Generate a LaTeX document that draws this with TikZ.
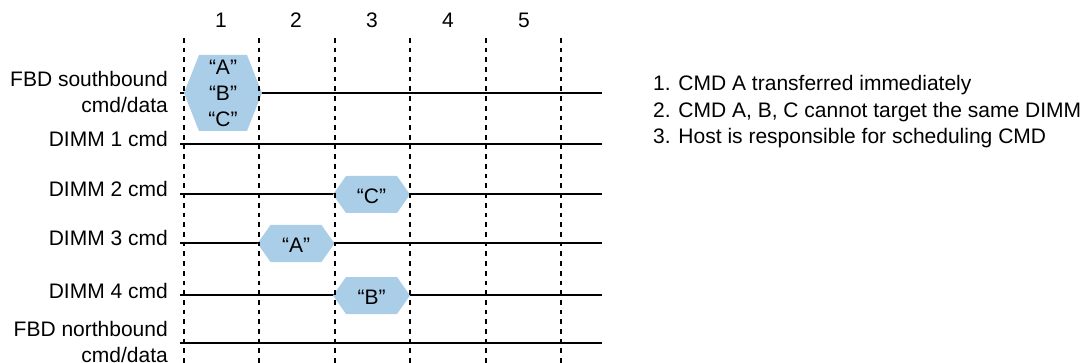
\documentclass[tikz,border=0pt]{standalone}
\usepackage{fontspec}
\setmainfont{Liberation Sans}
\usetikzlibrary{positioning}
\definecolor{cmdblue}{RGB}{170,206,232}
\tikzset{every node/.append style={font=\fontsize{21}{26}\selectfont, inner sep=0pt}}
\tikzset{sigline/.style={line width=2pt}}
\tikzset{slotline/.style={line width=2pt, dash pattern=on 4.7pt off 5pt}}
% centre x, centre y, half width, half width of flat edge, half height
\newcommand{\cmdhex}[5]{%
  \fill[cmdblue] (#1-#3,#2) -- (#1-#4,#2-#5) -- (#1+#4,#2-#5) -- (#1+#3,#2)
    -- (#1+#4,#2+#5) -- (#1-#4,#2+#5) -- cycle;}

\begin{document}
\begin{tikzpicture}[x=1pt,y=-1pt]
  \useasboundingbox (0,0) rectangle (1086,363);
  \foreach \y in {93,144,194,243,295,343}{
               \draw[sigline] (180,\y)--(602,\y);
};

  \cmdhex{223}{93}{39}{24}{38}
  \cmdhex{371.5}{194.5}{38.5}{25.5}{18.5}
  \cmdhex{296}{243.5}{38.5}{25.5}{18.5}
  \cmdhex{371.5}{295.5}{38.5}{25.5}{18.5}

  \foreach \x in {183.5,259,334.5,410,485.5,561}{
               \draw[slotline] (\x,38)--(\x,363);
};
  \foreach \n/\x in {1/221,2/296,3/372,4/448,5/524}{
               \node (slot\n) at (\x,20) {\n};
};

\node[align=center] (sbcmds) at (223,93) {“A”\\“B”\\“C”};
\node (cmdc) at (371.5,196) {“C”};
\node (cmda) at (296,245) {“A”};
\node (cmdb) at (371.5,297) {“B”};

\node[align=right, anchor=east] (southlbl) at (168,92) {FBD southbound\\cmd/data};
\foreach \k/\y in {1/144,2/194,3/243,4/295}{
               \node[anchor=base east] (dimm\k) at (168,\y+3) {DIMM \k\ cmd};
};
\node[align=right, anchor=east] (northlbl) at (168,342) {FBD northbound\\cmd/data};

\node[anchor=base west] (noteone) at (653,91) {1. CMD A transferred immediately};
\node[anchor=base west] (notetwo) at (653,118) {2. CMD A, B, C cannot target the same DIMM};
\node[anchor=base west] (notethree) at (653,144) {3. Host is responsible for scheduling CMD};
\end{tikzpicture}
\end{document}
